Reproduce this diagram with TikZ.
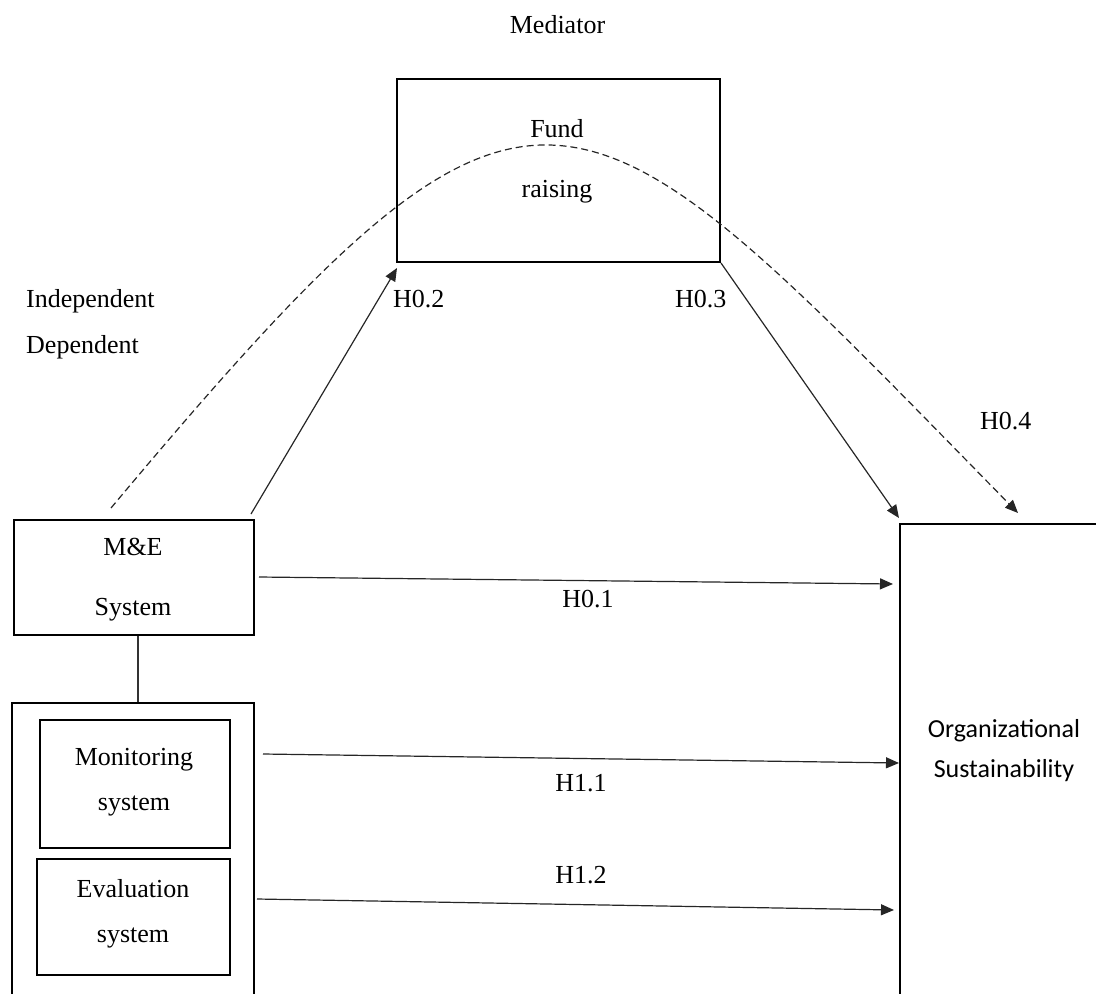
\documentclass[tikz,border=0pt]{standalone}
\usepackage{fontspec}
\setmainfont{Liberation Serif}
\newfontfamily\calfont{Carlito}
\usetikzlibrary{arrows.meta,calc}
\begin{document}
\begin{tikzpicture}[x=1pt,y=-1pt,
  box/.style={draw=black, line width=2pt, inner sep=0pt, anchor=north west},
  txt/.style={inner sep=0pt, anchor=base, font=\fontsize{26}{30}\selectfont, text=black},
  arr/.style={draw=black!85, line width=1.2pt, -{Triangle[length=13pt,width=11pt]}},
  ln/.style={draw=black!80, line width=1.2pt}]
\path[use as bounding box] (0,0) rectangle (1096,994);
\clip (0,0) rectangle (1096,994);

% boxes
\node[box, minimum width=323pt, minimum height=183pt] (fund) at (396,78) {};
\node[box, minimum width=240pt, minimum height=115pt] (me) at (13,519) {};
\node[box, minimum width=242pt, minimum height=400pt] (outer) at (11,702) {};
\node[box, minimum width=190pt, minimum height=128pt] (mon) at (39,719) {};
\node[box, minimum width=193pt, minimum height=116pt] (eva) at (36,858) {};
\node[box, minimum width=260pt, minimum height=500pt] (org) at (899,523) {};

% texts
\node[txt] (tmed) at (557.5,33) {Mediator};
\node[txt] (tfund) at (557,137) {Fund};
\node[txt] (traise) at (557,197) {raising};
\node[txt, anchor=base west] (tind) at (26,307) {Independent};
\node[txt, anchor=base west] (tdep) at (26,353) {Dependent};
\node[txt, anchor=base west] (h02) at (393,307) {H0.2};
\node[txt, anchor=base west] (h03) at (675,307) {H0.3};
\node[txt, anchor=base west] (h04) at (980,429) {H0.4};
\node[txt] (tme) at (133,555) {M\&E};
\node[txt] (tsys) at (133,615) {System};
\node[txt] (tmon) at (134,765) {Monitoring};
\node[txt] (tmsys) at (134,810) {system};
\node[txt] (teva) at (133,897) {Evaluation};
\node[txt] (tesys) at (133,942) {system};
\node[txt, font=\calfont\fontsize{26}{30}\selectfont] (torg) at (1004,737) {Organizational};
\node[txt, font=\calfont\fontsize{26}{30}\selectfont] (tsus) at (1004,777) {Sustainability};
\node[txt] (h01) at (588,607) {H0.1};
\node[txt] (h11) at (581,791) {H1.1};
\node[txt] (h12) at (581,883) {H1.2};

% connectors
\draw[ln] ($(me.south)+(4,0)$) -- ($(outer.north)+(5,0)$);
\draw[arr] ($(me.east)+(4,-0.5)$) -- ($(org.north west)+(-6,61)$);
\draw[arr] ($(mon.east)+(32,-30)$) -- ($(org.north west)+(0,240)$);
\draw[arr] ($(eva.east)+(26,-18)$) -- ($(org.north west)+(-5,387)$);
\draw[arr] ($(me.north east)+(-4,-5)$) -- ($(fund.south west)+(1,5)$);
\draw[arr] (fund.south east) -- ($(org.north west)+(0,-5)$);
\draw[arr, dash pattern=on 7pt off 4pt] ($(me.north)+(-23,-11)$) .. controls (540,-4) and (568,54) .. ($(org.north west)+(119,-10)$);
\end{tikzpicture}
\end{document}
